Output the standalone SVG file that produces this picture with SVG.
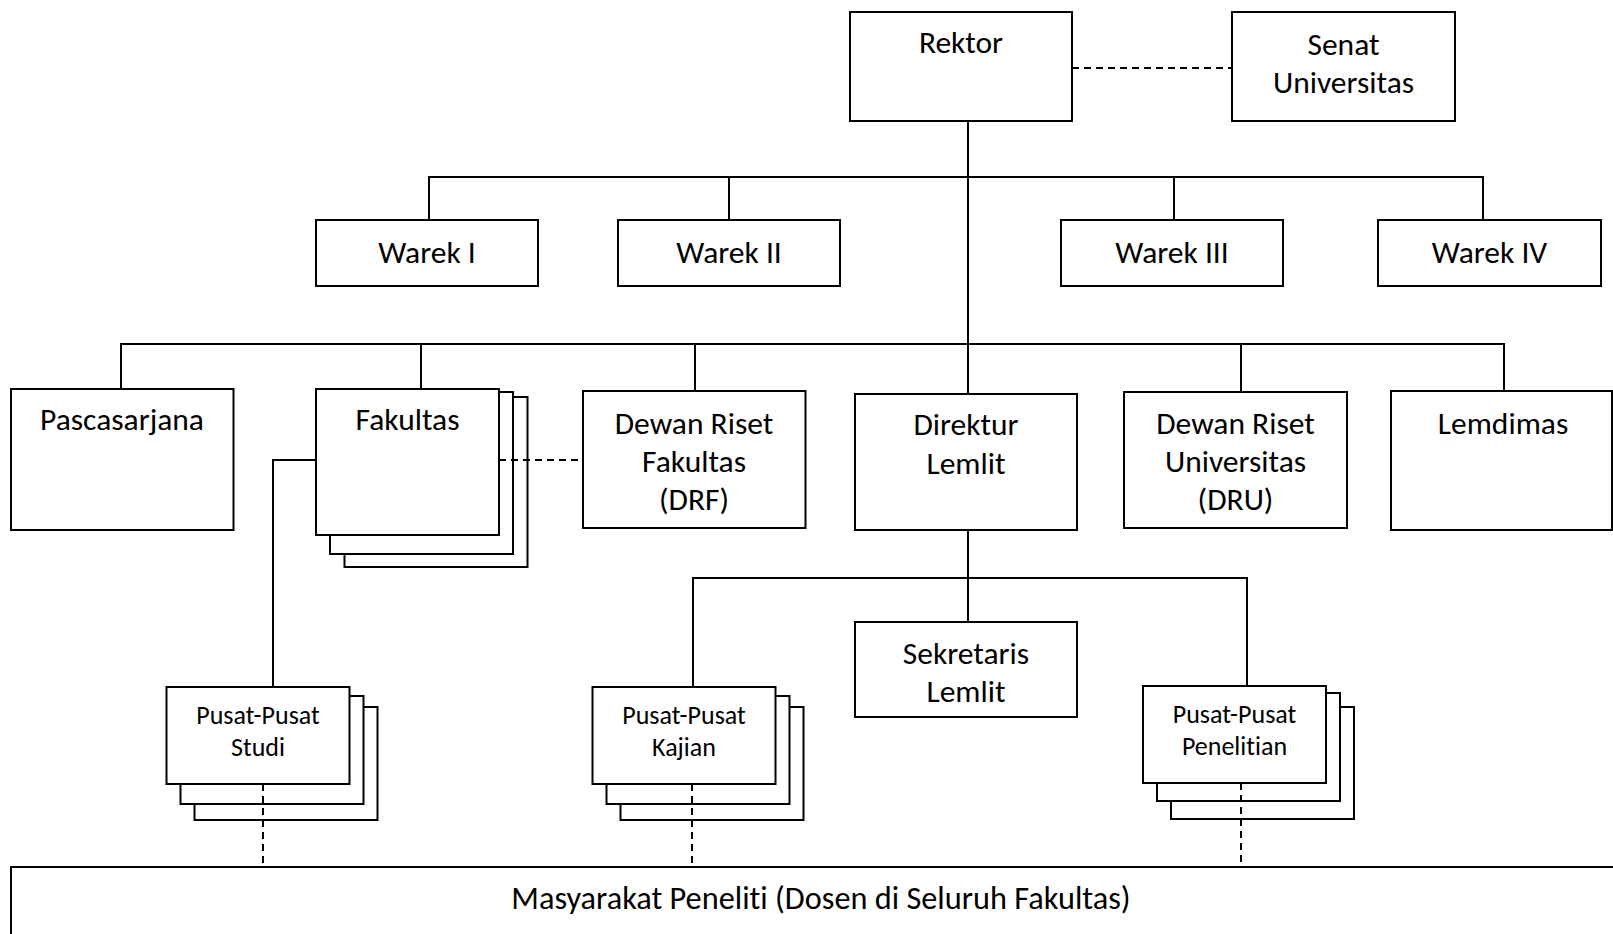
<svg xmlns="http://www.w3.org/2000/svg" width="1613" height="934" viewBox="0 0 1613 934">
<style>
.b{fill:#fff;stroke:#000;stroke-width:2}
.l{fill:none;stroke:#000;stroke-width:2}
.d{fill:none;stroke:#000;stroke-width:2;stroke-dasharray:7 5}
text{font-family:Carlito,Lato,"Liberation Sans",sans-serif;fill:#000;text-anchor:middle;font-variant-ligatures:none}
.t{font-size:31.5px}
.s{font-size:26px}
</style>
<rect width="1613" height="934" fill="#fff"/>
<g id="rektor"><rect class="b" x="850" y="12" width="222" height="109"/><text class="t" x="961" y="53">Rektor</text></g>
<g id="senat"><rect class="b" x="1232" y="12" width="223" height="109"/><text class="t" x="1343.5" y="55">Senat</text><text class="t" x="1343.5" y="93">Universitas</text></g>
<g id="warek1"><rect class="b" x="316" y="220" width="222" height="66"/><text class="t" x="427" y="263">Warek I</text></g>
<g id="warek2"><rect class="b" x="618" y="220" width="222" height="66"/><text class="t" x="729" y="263">Warek II</text></g>
<g id="warek3"><rect class="b" x="1061" y="220" width="222" height="66"/><text class="t" x="1172" y="263">Warek III</text></g>
<g id="warek4"><rect class="b" x="1378" y="220" width="223" height="66"/><text class="t" x="1489.5" y="263">Warek IV</text></g>
<g id="pascasarjana"><rect class="b" x="11" y="389" width="222.5" height="141"/><text class="t" x="122" y="430">Pascasarjana</text></g>
<g id="fakultas"><rect class="b" x="344.5" y="397" width="183" height="170"/><rect class="b" x="330" y="392" width="183" height="162"/><rect class="b" x="316" y="389" width="183" height="146"/><text class="t" x="407.5" y="430">Fakultas</text></g>
<g id="drf"><rect class="b" x="583" y="391" width="222.5" height="137"/><text class="t" x="694" y="434">Dewan Riset</text><text class="t" x="694" y="472">Fakultas</text><text class="t" x="694" y="510">(DRF)</text></g>
<g id="direktur"><rect class="b" x="855" y="394" width="222" height="136"/><text class="t" x="966" y="435">Direktur</text><text class="t" x="966" y="474">Lemlit</text></g>
<g id="dru"><rect class="b" x="1124" y="392" width="223" height="136"/><text class="t" x="1235.5" y="434">Dewan Riset</text><text class="t" x="1235.5" y="472">Universitas</text><text class="t" x="1235.5" y="510">(DRU)</text></g>
<g id="lemdimas"><rect class="b" x="1391" y="391" width="221" height="139"/><text class="t" x="1503" y="434">Lemdimas</text></g>
<g id="sekretaris"><rect class="b" x="855" y="622" width="222" height="95"/><text class="t" x="966" y="664">Sekretaris</text><text class="t" x="966" y="702">Lemlit</text></g>
<g id="pusat-studi"><rect class="b" x="194.5" y="707" width="183" height="113"/><rect class="b" x="180.5" y="696" width="183" height="108"/><rect class="b" x="166.5" y="687" width="183" height="97"/><text class="s" x="258" y="724">Pusat-Pusat</text><text class="s" x="258" y="756">Studi</text></g>
<g id="pusat-kajian"><rect class="b" x="620.5" y="707" width="183" height="113"/><rect class="b" x="606.5" y="696" width="183" height="108"/><rect class="b" x="592.5" y="687" width="183" height="97"/><text class="s" x="684" y="724">Pusat-Pusat</text><text class="s" x="684" y="756">Kajian</text></g>
<g id="pusat-penelitian"><rect class="b" x="1171" y="707" width="183" height="112"/><rect class="b" x="1157" y="693" width="183" height="108"/><rect class="b" x="1143" y="686" width="183" height="97"/><text class="s" x="1234.5" y="723">Pusat-Pusat</text><text class="s" x="1234.5" y="755">Penelitian</text></g>
<g id="masyarakat"><rect class="b" x="11" y="867" width="1620" height="100"/><text class="t" x="821" y="909" style="font-size:32.3px">Masyarakat Peneliti (Dosen di Seluruh Fakultas)</text></g>
<g id="connectors">
<path class="l" d="M968,121 V394"/>
<path class="l" d="M429,220 V177 H1483 V220 M729,177 V220 M1174,177 V220"/>
<path class="l" d="M121,389 V344 H1504 V391 M421,344 V389 M695,344 V391 M1241,344 V392"/>
<path class="l" d="M968,530 V622 M693,687 V578 H1247 V686"/>
<path class="l" d="M316,460 H273 V687"/>
<path class="d" d="M1072,68 H1232"/>
<path class="d" d="M499,460 H583"/>
<path class="d" d="M263,784 V867 M692,784 V867 M1241,783 V867"/>
</g>
</svg>
